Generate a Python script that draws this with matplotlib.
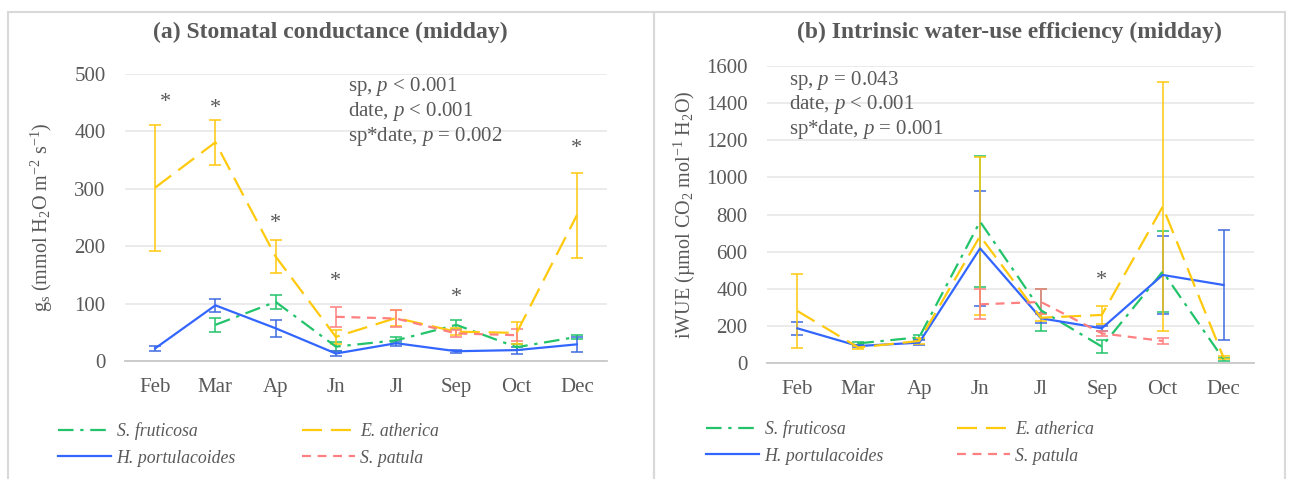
import matplotlib
import numpy as np

matplotlib.use("Agg")
import matplotlib.pyplot as plt  # noqa: E402
from matplotlib.patches import Rectangle  # noqa: E402

nan = np.nan

months = ["Feb", "Mar", "Ap", "Jn", "Jl", "Sep", "Oct", "Dec"]
species = ["S. fruticosa", "H. portulacoides", "E. atherica", "S. patula"]

# (a) stomatal conductance, mmol H2O m-2 s-1
gs_fruticosa = [nan, 63, 103, 25, 36, 63, 24, 42]
gs_fruticosa_err = [nan, 12, 12, 8, 5, 8, 5, 3]
gs_portulacoides = [22, 97, 57, 13, 31, 17, 19, 29]
gs_portulacoides_err = [5, 11, 15, 4, 4, 3, 6, 13]
gs_atherica = [302, 381, 182, 42, 75, 51, 49, 254]
gs_atherica_err = [110, 39, 28, 12, 14, 6, 19, 74]
gs_patula = [nan, nan, nan, 77, 74, 48, 45, nan]
gs_patula_err = [nan, nan, nan, 17, 14, 6, 10, nan]
gs_stars = ["Feb", "Mar", "Ap", "Jn", "Sep", "Dec"]
gs_star_y = [450, 440, 240, 138, 111, 370]
gs_stats = ["sp, $p$ < 0.001", "date, $p$ < 0.001", "sp*date, $p$ = 0.002"]

# (b) intrinsic water-use efficiency, umol CO2 mol-1 H2O
wue_fruticosa = [nan, 107, 140, 762, 285, 90, 493, 22]
wue_fruticosa_err = [nan, 10, 12, 350, 114, 35, 217, 8]
wue_portulacoides = [188, 93, 111, 618, 242, 188, 475, 421]
wue_portulacoides_err = [36, 8, 15, 310, 27, 15, 212, 296]
wue_atherica = [281, 85, 120, 684, 245, 260, 842, 30]
wue_atherica_err = [198, 10, 15, 424, 20, 47, 670, 8]
wue_patula = [nan, nan, nan, 317, 330, 161, 120, nan]
wue_patula_err = [nan, nan, nan, 80, 67, 15, 15, nan]
wue_stars = ["Sep"]
wue_star_y = [446]
wue_stats = ["sp, $p$ = 0.043", "date, $p$ < 0.001", "sp*date, $p$ = 0.001"]

plt.rcParams["font.family"] = ["Liberation Serif", "DejaVu Serif"]
plt.rcParams["mathtext.fontset"] = "custom"
plt.rcParams["mathtext.rm"] = "Liberation Serif"
plt.rcParams["mathtext.it"] = "Liberation Serif:italic"
plt.rcParams["mathtext.bf"] = "Liberation Serif:bold"

TEXT = "#595959"
STYLES = {
    "S. fruticosa": dict(color="#22C36B", ecolor="#22C36B", dashes=(7, 3, 1.5, 3)),
    "H. portulacoides": dict(color="#3366FF", ecolor="#3F6BE0", dashes=()),
    "E. atherica": dict(color="#FFC90E", ecolor="#FFC90E", dashes=(9, 4)),
    "S. patula": dict(color="#FF8080", ecolor="#FF8080", dashes=(4, 3)),
}

W, H = 1301, 479


def draw_panel(ax, series, ymax, ystep, ylabel, labelpad, stars, star_y, stats, stats_xy):
    x = np.arange(len(months))
    for name, (values, errors) in series.items():
        st = STYLES[name]
        ax.errorbar(x, values, yerr=errors, fmt="none", ecolor=st["ecolor"],
                    elinewidth=1.1, capsize=4, capthick=1.1, zorder=2)
        line, = ax.plot(x, values, color=st["color"], lw=1.6, label=name, zorder=3)
        if st["dashes"]:
            line.set_dashes(st["dashes"])
    ax.set_xlim(-0.5, len(months) - 0.5)
    ax.set_ylim(0, ymax)
    ax.set_yticks(np.arange(0, ymax + 1, ystep))
    ax.set_xticks(x)
    ax.set_xticklabels(months)
    ax.grid(axis="y", color="#e8e8e8", lw=1.2)
    ax.set_axisbelow(True)
    for side in ["left", "right", "top"]:
        ax.spines[side].set_visible(False)
    ax.spines["bottom"].set_color("#c8c8c8")
    ax.spines["bottom"].set_linewidth(1.3)
    ax.tick_params(length=0, labelsize=15, colors=TEXT, pad=12)
    ax.tick_params(axis="y", pad=14)
    ax.set_ylabel(ylabel, fontsize=14.5, color=TEXT, labelpad=labelpad)
    for month, yv in zip(stars, star_y):
        xi = months.index(month) + (0.17 if month == "Feb" else 0)
        ax.text(xi, yv, "*", ha="center", va="center", fontsize=16, color=TEXT)
    for i, line in enumerate(stats):
        fig.text(stats_xy[0] / W, 1 - (stats_xy[1] + i * 24.5) / H, line,
                 ha="left", va="center", fontsize=15, color=TEXT)


fig = plt.figure(figsize=(13.01, 4.79), dpi=100)


def fig_axes(x0, y_top, x1, y_bot):
    return fig.add_axes([x0 / W, 1 - y_bot / H, (x1 - x0) / W, (y_bot - y_top) / H])


ax_a = fig_axes(125, 74, 607, 361)
ax_b = fig_axes(767, 65.7, 1254, 363.3)

draw_panel(
    ax_a,
    {
        "S. fruticosa": (gs_fruticosa, gs_fruticosa_err),
        "H. portulacoides": (gs_portulacoides, gs_portulacoides_err),
        "E. atherica": (gs_atherica, gs_atherica_err),
        "S. patula": (gs_patula, gs_patula_err),
    },
    500, 100,
    r"g$_{\mathrm{s}}$ (mmol H$_2$O m$^{\mathrm{-2}}$ s$^{\mathrm{-1}}$)", 14,
    gs_stars, gs_star_y, gs_stats, (348, 87),
)
draw_panel(
    ax_b,
    {
        "S. fruticosa": (wue_fruticosa, wue_fruticosa_err),
        "H. portulacoides": (wue_portulacoides, wue_portulacoides_err),
        "E. atherica": (wue_atherica, wue_atherica_err),
        "S. patula": (wue_patula, wue_patula_err),
    },
    1600, 200,
    r"iWUE (µmol CO$_2$ mol$^{\mathrm{-1}}$ H$_2$O)", 6,
    wue_stars, wue_star_y, wue_stats, (789, 80),
)

fig.text(330 / W, 1 - 32 / H, "(a) Stomatal conductance (midday)", ha="center",
         va="center", fontsize=17, fontweight="bold", color=TEXT)
fig.text(1009 / W, 1 - 32 / H, "(b) Intrinsic water-use efficiency (midday)",
         ha="center", va="center", fontsize=17, fontweight="bold", color=TEXT)

for ax, anchor, colsp in [(ax_a, (42 / W, 1 - 406 / H), 3.7),
                          (ax_b, (690 / W, 1 - 404 / H), 4.1)]:
    handles, labels = ax.get_legend_handles_labels()
    order = [labels.index(s) for s in species]
    leg = fig.legend([handles[i] for i in order], [labels[i] for i in order],
                     loc="upper left", bbox_to_anchor=anchor, ncol=2, frameon=False,
                     handlelength=3.0, handletextpad=0.3, columnspacing=colsp,
                     labelspacing=0.55, prop={"style": "italic", "size": 12.8})
    for t in leg.get_texts():
        t.set_color(TEXT)

# chart-area borders
for x0, x1 in [(8, 654), (654, 1285)]:
    fig.add_artist(Rectangle((x0 / W, -0.05), (x1 - x0) / W, 1.05 - 12 / H,
                             transform=fig.transFigure, fill=False,
                             edgecolor="#d9d9d9", lw=1.5))

fig.savefig("out.png", dpi=100)
